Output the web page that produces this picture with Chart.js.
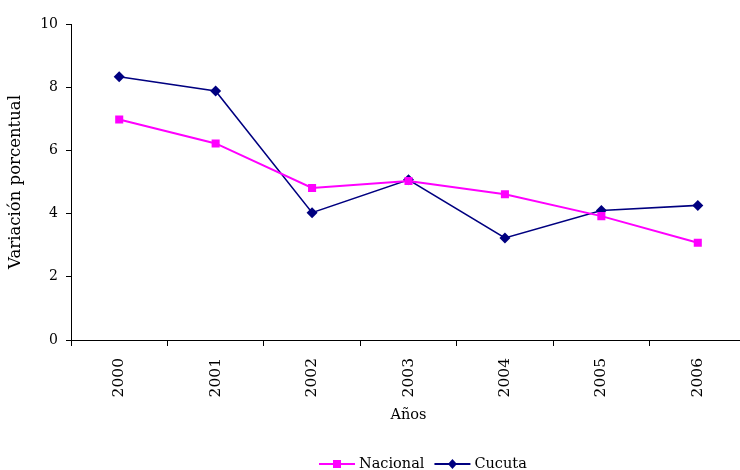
<!DOCTYPE html>
<html><head><meta charset="utf-8">
<script src="https://cdn.jsdelivr.net/npm/chart.js@4/dist/chart.umd.min.js"></script>
<style>
html,body{margin:0;padding:0;background:#fff;overflow:hidden;width:740px;height:470px}
#wrap{position:absolute;left:0;top:0;width:760px;height:470px}
</style>
</head><body><div id="wrap"><canvas id="c" width="760" height="470"></canvas></div>
<script>
const years = ['2000', '2001', '2002', '2003', '2004', '2005', '2006'];
const nacional = [6.98, 6.22, 4.81, 5.03, 4.61, 3.92, 3.08];
const cucuta = [8.33, 7.88, 4.03, 5.07, 3.23, 4.10, 4.26];
const seriesNames = ['Nacional', 'Cucuta'];
const yTitle = 'Variación porcentual';
const xTitle = 'Años';

const FONT = '"DejaVu Serif", serif';

const legendPlugin = {
  id: 'lineLegend',
  afterDraw(chart) {
    const ctx = chart.ctx;
    ctx.save();
    ctx.font = '14.5px ' + FONT;
    ctx.textBaseline = 'middle';
    ctx.textAlign = 'left';
    let x = 319;
    const y = 464;
    chart.data.datasets.forEach(ds => {
      ctx.strokeStyle = ds.borderColor;
      ctx.lineWidth = 2;
      ctx.beginPath(); ctx.moveTo(x, y); ctx.lineTo(x + 36, y); ctx.stroke();
      const cx = x + 18;
      ctx.fillStyle = ds.pointBackgroundColor;
      ctx.beginPath();
      if (ds.pointStyle === 'rect') {
        ctx.rect(cx - 4, y - 4, 8, 8);
      } else {
        ctx.moveTo(cx, y - 5); ctx.lineTo(cx + 4.5, y); ctx.lineTo(cx, y + 5); ctx.lineTo(cx - 4.5, y); ctx.closePath();
      }
      ctx.fill();
      ctx.fillStyle = '#000';
      ctx.fillText(ds.label, x + 40, y + 0.5);
      x += 40 + ctx.measureText(ds.label).width + 10;
    });
    ctx.restore();
  }
};

new Chart(document.getElementById('c'), {
  type: 'line',
  data: {
    labels: years,
    datasets: [
      {
        label: seriesNames[0], data: nacional,
        borderColor: '#FF00FF', backgroundColor: '#FF00FF',
        pointBackgroundColor: '#FF00FF', pointBorderColor: '#FF00FF',
        borderWidth: 2, pointStyle: 'rect', pointRadius: 5.7, pointBorderWidth: 0,
        tension: 0
      },
      {
        label: seriesNames[1], data: cucuta,
        borderColor: '#000080', backgroundColor: '#000080',
        pointBackgroundColor: '#000080', pointBorderColor: '#000080',
        borderWidth: 1.6, pointStyle: 'rectRot', pointRadius: 5.5, pointBorderWidth: 0,
        tension: 0
      }
    ]
  },
  options: {
    responsive: false,
    animation: false,
    devicePixelRatio: 1,
    layout: { padding: { left: 0, right: 14, top: 24, bottom: 46 } },
    plugins: { legend: { display: false }, tooltip: { enabled: false } },
    scales: {
      x: {
        offset: true,
        grid: { offset: true, drawOnChartArea: false, drawTicks: true, tickLength: 6, color: '#000', lineWidth: 1 },
        border: { color: '#000', width: 1 },
        ticks: { color: '#000', font: { family: FONT, size: 15.5 }, minRotation: 90, maxRotation: 90, padding: 12, autoSkip: false },
        title: { display: true, text: xTitle, color: '#000', font: { family: FONT, size: 14.5 }, padding: { top: 0, bottom: 0 } },
        afterFit(scale) { scale.height = 84; }
      },
      y: {
        min: 0, max: 10,
        ticks: { stepSize: 2, color: '#000', font: { family: FONT, size: 14 }, padding: 8 },
        grid: { drawOnChartArea: false, drawTicks: true, tickLength: 5, color: '#000', lineWidth: 1 },
        border: { color: '#000', width: 1 },
        title: { display: true, text: yTitle, color: '#000', font: { family: FONT, size: 16.5 }, padding: { top: 6, bottom: 0 } },
        afterFit(scale) { scale.width = 71; }
      }
    }
  },
  plugins: [legendPlugin]
});
</script>
</body></html>
